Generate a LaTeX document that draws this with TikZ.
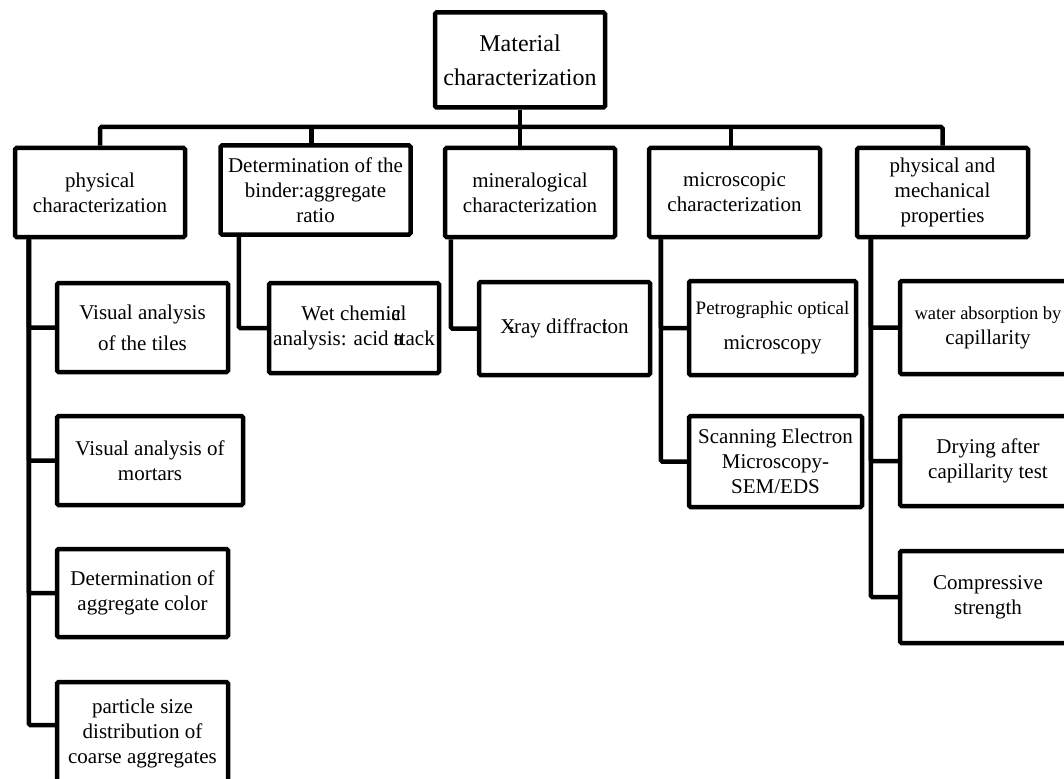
\documentclass[tikz,border=0pt]{standalone}
\usepackage{fontspec}
\setmainfont{Liberation Serif}
\usetikzlibrary{positioning,calc}

\begin{document}
\begin{tikzpicture}[x=1pt,y=-1pt,
  bx/.style={draw,line width=4.5pt,rounded corners=1.5pt,inner sep=0pt,align=center,minimum width=170pt,minimum height=89pt,font=\fontsize{21}{25}\selectfont},
  ln/.style={line width=4.5pt,rounded corners=1.5pt}]
  \useasboundingbox (0,0) rectangle (1064,778);
  \clip (0,0) rectangle (1064,778);
  \node[bx,minimum width=170pt,minimum height=95pt,font=\fontsize{24}{34}\selectfont] (root) at (520,60) {Material\\characterization};
  % first level
  \node[bx] (phys) at (100,192.5) {physical\\characterization};
  \node[bx,minimum width=190pt] (binder) at (315.5,190) {Determination of the\\binder:aggregate\\ratio};
  \node[bx] (miner) at (530,192.5) {mineralogical\\characterization};
  \node[bx,minimum width=171pt] (micro) at (734.5,192.5) {microscopic\\characterization};
  \node[bx,minimum width=171pt] (mech) at (942.5,192.5) {physical and\\mechanical\\properties};
  % second level
  \node[bx,minimum width=171pt] (tiles) at (142.5,327.5) {Visual analysis\\[6pt]of the tiles};
  \node[bx,minimum width=186pt] (mortar) at (150,460.5) {Visual analysis of\\mortars};
  \node[bx,minimum width=171pt,minimum height=88pt] (color) at (142.5,593) {Determination of\\aggregate color};
  \node[bx,minimum width=171pt,minimum height=102pt] (psd) at (142.5,733) {particle size\\distribution of\\coarse aggregates};
  \node[bx,minimum width=170pt,minimum height=90pt] (wet) at (354,328) {Wet chemi\rlap{c}al\\analysis: acid \rlap{a}ttack};
  \node[bx,minimum width=171pt,minimum height=93pt] (xray) at (564.5,328.5) {X\kern-0.4em-ray diffrac\rlap{t}ion};
  \node[bx,minimum width=167pt,minimum height=94pt] (petro) at (772.5,328) {{\fontsize{19}{25}\selectfont Petrographic optical}\\[10pt]microscopy};
  \node[bx,minimum width=173pt,minimum height=91pt] (sem) at (775.5,461.5) {Scanning Electron\\Microscopy-\\SEM/EDS};
  \node[bx,minimum width=176pt,minimum height=93pt] (water) at (988,327.5) {{\fontsize{18.5}{25}\selectfont water absorption by}\\capillarity};
  \node[bx,minimum width=176pt,minimum height=90pt] (dry) at (988,461) {Drying after\\capillarity test};
  \node[bx,minimum width=176pt,minimum height=92pt] (comp) at (988,597) {Compressive\\strength};
  % tree
  \coordinate (bar) at (520,127);
  \draw[ln] (root.south) -- (root.south |- miner.north);
  \draw[ln] (phys.north) |- (bar) -| (mech.north);
  \draw[ln] ([xshift=-4pt]binder.north) -- ([xshift=-4pt]binder.north |- bar);
  \draw[ln] ([xshift=-3.5pt]micro.north) -- ([xshift=-3.5pt]micro.north |- bar);
  \draw[ln] ([xshift=16pt]phys.south west) |- (tiles.west);
  \draw[ln] ([xshift=16pt]phys.south west) |- (mortar.west);
  \draw[ln] ([xshift=16pt]phys.south west) |- (color.west);
  \draw[ln] ([xshift=16pt]phys.south west) |- ([yshift=8pt]psd.west);
  \draw[ln] ([xshift=20.5pt]binder.south west) |- (wet.west);
  \draw[ln] ([xshift=8pt]miner.south west) |- (xray.west);
  \draw[ln] ([xshift=14pt]micro.south west) |- (petro.west);
  \draw[ln] ([xshift=14pt]micro.south west) |- (sem.west);
  \draw[ln] ([xshift=16pt]mech.south west) |- (water.west);
  \draw[ln] ([xshift=16pt]mech.south west) |- (dry.west);
  \draw[ln] ([xshift=16pt]mech.south west) |- (comp.west);
\end{tikzpicture}
\end{document}
